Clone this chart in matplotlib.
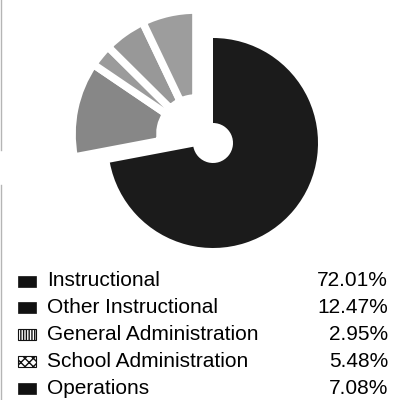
import matplotlib.pyplot as plt
from matplotlib.patches import Rectangle

plt.rcParams['font.family'] = ['Liberation Sans', 'DejaVu Sans']

# data
categories = ['Instructional', 'Other Instructional', 'General Administration',
              'School Administration', 'Operations']
shares = [72.01, 12.47, 2.95, 5.48, 7.08]
pct_labels = ['72.01%', '12.47%', '2.95%', '5.48%', '7.08%']

slice_colors = ['#1b1b1b', '#878787', '#9b9b9b', '#989898', '#9d9d9d']
key_hatch = [None, None, '||||||', 'xxxx', None]

W, H = 403, 400
fig = plt.figure(figsize=(W / 100, H / 100), dpi=100)
ax = fig.add_axes([0, 0, 1, 1])

# main (dark) slice, centred on the hole
dark_colors = [slice_colors[0]] + ['none'] * 4
ax.pie(shares, startangle=90, counterclock=False, colors=dark_colors,
       center=(213, H - 143), radius=105,
       wedgeprops=dict(width=85, linewidth=0))

# the small slices are pulled out towards the upper left
grey_colors = ['none'] + slice_colors[1:]
wedges, _ = ax.pie(shares, startangle=90, counterclock=False, colors=grey_colors,
                   center=(196, H - 134), radius=124,
                   wedgeprops=dict(width=88, linewidth=5.5, edgecolor='white'))
wedges[0].set_edgecolor('none')

ax.set_xlim(0, W)
ax.set_ylim(0, H)
ax.set_aspect('equal')
ax.axis('off')

# scan border on the left
ax.plot([1, 1], [H, H - 150], color='#b5b5b5', lw=1)
ax.plot([1, 1], [H - 185, 0], color='#b5b5b5', lw=1)

# key with percentages
for i, (name, pct) in enumerate(zip(categories, pct_labels)):
    yc = H - (281 + 26.9 * i)
    h = key_hatch[i]
    if h is None:
        box = Rectangle((18, yc - 5.5), 18, 11, facecolor='#111111',
                        edgecolor='#111111', lw=0.5)
    else:
        box = Rectangle((18, yc - 5.5), 18, 11, facecolor='white',
                        edgecolor='#111111', lw=0.8, hatch=h)
    ax.add_patch(box)
    ax.text(47, yc, name, fontsize=15, va='center', ha='left', color='black')
    ax.text(388, yc, pct, fontsize=15, va='center', ha='right', color='black')

fig.savefig('out.png', dpi=100)
